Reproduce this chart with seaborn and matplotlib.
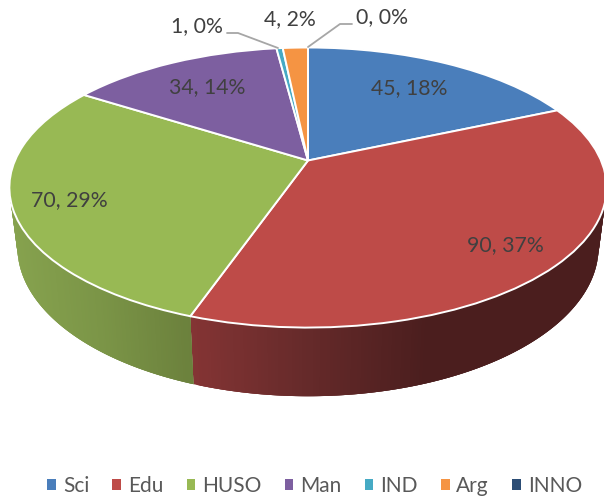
import numpy as np
import matplotlib
matplotlib.use("Agg")
import matplotlib.pyplot as plt
import seaborn as sns
from matplotlib.transforms import Transform
from matplotlib.patches import Polygon

categories = ["Sci", "Edu", "HUSO", "Man", "IND", "Arg", "INNO"]
values = [45, 90, 70, 34, 1, 4, 0]
colors = ["#4A7EBB", "#BE4B48", "#98B954", "#7D5FA0", "#46AAC4", "#F59443", "#2C4D75"]

CX, CY, A, B, K = 308.0, 160.5, 293.0, 134.8, 0.193
SX, SY, H0 = 0.973, 1.064, 58.0


class Perspective(Transform):
    input_dims = output_dims = 2
    is_affine = False
    has_inverse = False

    def __init__(self, sx=1.0, sy=1.0, h0=0.0):
        super().__init__()
        self.sx, self.sy, self.h0 = sx, sy, h0

    def transform_non_affine(self, v):
        v = np.asarray(v, float)
        d = 1 + K * v[:, 1]
        return np.column_stack([CX + self.sx * A * v[:, 0] / d,
                                CY + self.h0 - self.sy * B * v[:, 1] / d])


sns.set_theme(style="white")
plt.rcParams["font.family"] = ["Lato", "DejaVu Sans"]
fig = plt.figure(figsize=(6.04, 4.99), dpi=100)
ax = fig.add_axes([0, 0, 1, 1])
wedges, _ = ax.pie(values, colors=sns.color_palette(colors), startangle=90, counterclock=False,
                   wedgeprops=dict(edgecolor="white", linewidth=1.4))
ax.set_aspect("auto")
ax.set_xlim(0, 604)
ax.set_ylim(499, 0)
ax.axis("off")

top, bottom = Perspective(), Perspective(SX, SY, H0)
for w in wedges:
    w.set_transform(top + ax.transData)
    w.set_zorder(3)

# shaded side wall (gradient ramps over screen x)
ramps = {
    "Edu": ([195, 300, 430, 600], ["#843434", "#682B2B", "#4B1E1E", "#4B1E1E"]),
    "HUSO": ([12, 100, 195], ["#86A24E", "#7B9547", "#6B803C"]),
}
for w, name in zip(wedges, categories):
    if name not in ramps:
        continue
    xp, cs = ramps[name]
    rgb = np.array([matplotlib.colors.to_rgb(c) for c in cs])
    th = np.radians(np.linspace(w.theta1, w.theta2, 240))
    pts = np.column_stack([np.cos(th), np.sin(th)])
    t, b = top.transform(pts), bottom.transform(pts)
    for i in range(len(th) - 1):
        j2 = min(i + 3, len(th) - 1)
        mx = t[i:j2 + 1, 0].mean()
        col = [np.interp(mx, xp, rgb[:, j]) for j in range(3)]
        ax.add_patch(Polygon([t[i], t[j2], b[j2], b[i]], closed=True, facecolor=col,
                             edgecolor="none", zorder=1))
    if name == "HUSO":
        ax.plot([t[0, 0], b[0, 0]], [t[0, 1], b[0, 1]], color="white", lw=1.3, zorder=2)

# data labels
total = sum(values)
label_pos = [(409, 88), (505, 245), (69, 200), (207, 87), (197, 26), (290, 19), (382, 17)]
for v, (x, y) in zip(values, label_pos):
    ax.text(x, y, f"{v}, {100 * v / total:.0f}%", ha="center", va="center",
            fontsize=15.3, color="#404040", zorder=5)

# leader lines
ax.plot([227, 238, 278], [33, 33, 48], color="#A6A6A6", lw=1.3, zorder=4)
ax.plot([352, 340, 308], [24, 24, 47], color="#A6A6A6", lw=1.3, zorder=4)

leg = ax.legend(wedges, categories, ncol=7, loc="lower center", bbox_to_anchor=(0.521, -0.028),
                frameon=False, fontsize=15, labelcolor="#595959", handlelength=0.42, handleheight=0.42,
                handletextpad=0.32, columnspacing=1.12, borderpad=0.3)
for h in leg.legend_handles:
    h.set_edgecolor("none")

fig.savefig("out.png", dpi=100)
